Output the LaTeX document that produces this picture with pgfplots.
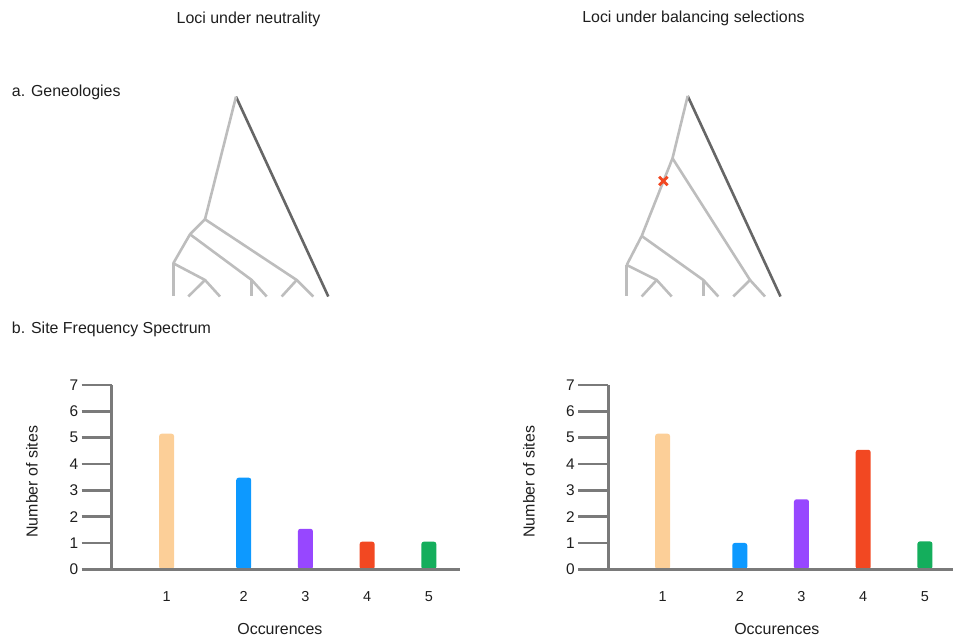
\documentclass[border=0pt]{standalone}
\usepackage{pgfplots}
\pgfplotsset{compat=1.18}
\usepackage{fontspec}
\setmainfont{Liberation Sans}
\definecolor{txt}{HTML}{1E1E1E}
\definecolor{axisgray}{HTML}{7A7A7A}
\definecolor{treegray}{HTML}{BDBDBD}
\definecolor{treedark}{HTML}{666666}
\definecolor{cpeach}{HTML}{FCCF98}
\definecolor{cblue}{HTML}{0D99FF}
\definecolor{cpurple}{HTML}{9747FF}
\definecolor{cred}{HTML}{F24822}
\definecolor{cgreen}{HTML}{14AE5C}
\newcommand\lbl{\fontsize{16}{19}\selectfont}
\newcommand\ytks{\fontsize{15.5}{18}\selectfont}
\newcommand\xtks{\fontsize{14.5}{17}\selectfont}
\pgfplotsset{
  tree/.style={draw=treegray, line width=2.6bp, no markers},
  treed/.style={draw=treedark, line width=2.6bp, no markers},
  sfs/.style={
    width=348.3bp, height=184.3bp, scale only axis,
    ymin=0, ymax=7,
    axis lines=left, axis line style={draw=axisgray, line width=2.5bp, -},
    ytick={0,...,7},
    xtick={1,2.25,3.25,4.25,5.25}, xticklabels={1,2,3,4,5},
    tick align=inside, major tick length=30bp,
    ytick style={draw=axisgray, line width=2.5bp, xshift=-30bp},
    xtick style={draw=none},
    yticklabel style={xshift=-30bp, font=\ytks, text=txt},
    xticklabel style={yshift=11bp, font=\xtks, text=txt},
    /pgf/number format/assume math mode=true,
    label style={font=\lbl, text=txt},
    xlabel={Occurences}, ylabel={Number of sites},
    clip=false, axis on top,
    ybar, bar width=15bp, bar shift=0pt,
  },
  bar/.style={draw=none, fill=#1, rounded corners=2.5bp},
}
\begin{document}
\begin{tikzpicture}
\path[use as bounding box] (0,0) rectangle (953bp,638bp);
% background axis in pixel coordinates
\begin{axis}[at={(0,0)}, anchor=south west, width=953bp, height=638bp, scale only axis,
  xmin=0, xmax=953, ymin=0, ymax=638, y dir=reverse, hide axis, clip=false]
% left tree (neutrality)
\addplot[treed] coordinates {(236,96.7) (328.3,296.5)};
\addplot[tree] coordinates {(236,96.7) (205,219.3)};
\addplot[tree] coordinates {(205,219.3) (296.7,280) (313.3,296.5)};
\addplot[tree] coordinates {(296.7,280) (281.7,296.5)};
\addplot[tree] coordinates {(205,219.3) (190,234.3)};
\addplot[tree] coordinates {(190,234.3) (251.7,280) (266.7,296.5)};
\addplot[tree] coordinates {(251.7,280) (251.7,296.5)};
\addplot[tree] coordinates {(190,234.3) (173.3,263.3)};
\addplot[tree] coordinates {(173.3,263.3) (173.3,296.5)};
\addplot[tree] coordinates {(173.3,263.3) (205,280) (220,296.5)};
\addplot[tree] coordinates {(205,280) (188.3,296.5)};
% right tree (balancing selection)
\addplot[treed] coordinates {(687.7,96) (780.5,296.5)};
\addplot[tree] coordinates {(687.7,96) (672.5,158.3) (641.7,236)};
\addplot[tree] coordinates {(672.5,158.3) (750,280) (765,296.5)};
\addplot[tree] coordinates {(750,280) (733.3,296.5)};
\addplot[tree] coordinates {(641.7,236) (703.3,280) (718.3,296.5)};
\addplot[tree] coordinates {(703.3,280) (703.3,296.5)};
\addplot[tree] coordinates {(641.7,236) (626.7,265)};
\addplot[tree] coordinates {(626.7,265) (626.7,296.5)};
\addplot[tree] coordinates {(626.7,265) (656.7,280) (671.7,296.5)};
\addplot[tree] coordinates {(656.7,280) (641.7,296.5)};
\addplot[only marks, mark=x, mark size=6bp, mark options={draw=cred, line width=2.8bp}] coordinates {(663.3,181)};
% texts
\node[font=\lbl, text=txt, anchor=base] at (axis cs:248.5,23.3) {Loci under neutrality};
\node[font=\lbl, text=txt, anchor=base] at (axis cs:693.5,22.7) {Loci under balancing selections};
\node[font=\lbl, text=txt, anchor=base west, inner sep=0pt] at (axis cs:11.7,96.7) {a. Geneologies};
\node[font=\lbl, text=txt, anchor=base west, inner sep=0pt] at (axis cs:11.7,333.3) {b. Site Frequency Spectrum};
\end{axis}
% left SFS
\begin{axis}[sfs, at={(111.7bp,68.7bp)}, anchor=south west,
  width=348.3bp, xmin=0.11, xmax=5.755,
  xlabel style={at={(axis description cs:0.483,-0.355)}, anchor=base, inner sep=0pt},
  ylabel style={at={(axis description cs:-0.229,0.475)}, anchor=center}]
\addplot[bar=cpeach] coordinates {(1,5.15)};
\addplot[bar=cblue] coordinates {(2.25,3.48)};
\addplot[bar=cpurple] coordinates {(3.25,1.54)};
\addplot[bar=cred] coordinates {(4.25,1.05)};
\addplot[bar=cgreen] coordinates {(5.25,1.05)};
\end{axis}
% right SFS
\begin{axis}[sfs, at={(608.3bp,68.7bp)}, anchor=south west,
  width=344.7bp, xmin=0.12, xmax=5.705,
  xlabel style={at={(axis description cs:0.489,-0.355)}, anchor=base, inner sep=0pt},
  ylabel style={at={(axis description cs:-0.23,0.475)}, anchor=center}]
\addplot[bar=cpeach] coordinates {(1,5.15)};
\addplot[bar=cblue] coordinates {(2.25,1.0)};
\addplot[bar=cpurple] coordinates {(3.25,2.66)};
\addplot[bar=cred] coordinates {(4.25,4.54)};
\addplot[bar=cgreen] coordinates {(5.25,1.06)};
\end{axis}
\end{tikzpicture}
\end{document}
